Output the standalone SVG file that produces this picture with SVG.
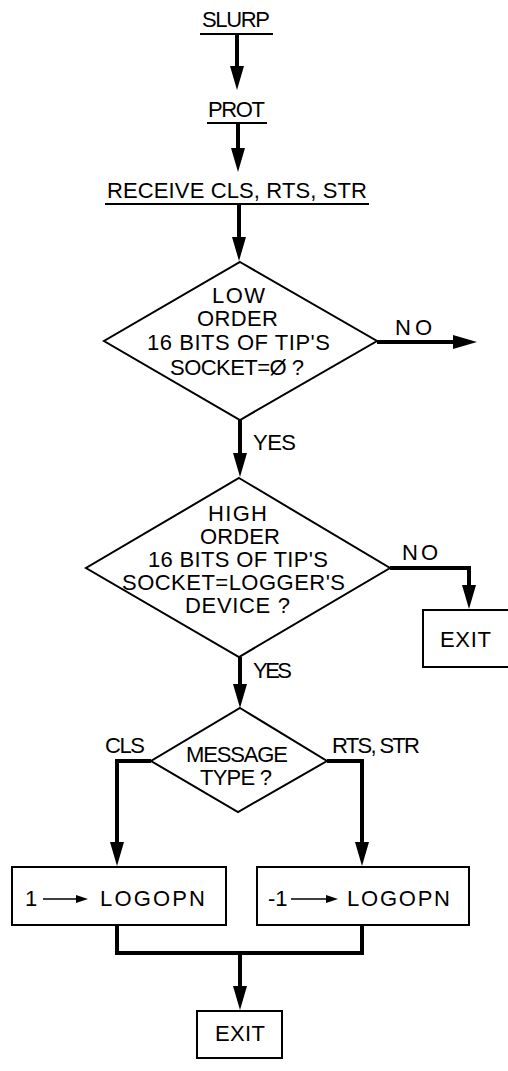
<svg xmlns="http://www.w3.org/2000/svg" width="508" height="1071" viewBox="0 0 508 1071">
  <style>
    .bg { fill: #ffffff; }
    .t { font-family: "Liberation Sans", "DejaVu Sans", Arial, sans-serif; font-size: 22px; fill: #000; text-anchor: start; }
    .shape { fill: none; stroke: #000; stroke-width: 2; stroke-linejoin: miter; }
    .rule { stroke: #000; stroke-width: 2; fill: none; }
    .flow { fill: none; stroke: #000; stroke-width: 4; stroke-linejoin: miter; }
    .small { fill: none; stroke: #000; stroke-width: 1.5; }
  </style>
  <defs>
    <marker id="head" markerUnits="userSpaceOnUse" markerWidth="24" markerHeight="14" refX="14" refY="7" orient="auto">
      <path d="M0,0 L24,7 L0,14 z" fill="#000"/>
    </marker>
    <marker id="smallhead" markerUnits="userSpaceOnUse" markerWidth="12" markerHeight="8" refX="8" refY="4" orient="auto">
      <path d="M0,0 L12,4 L0,8 z" fill="#000"/>
    </marker>
  </defs>

  <rect class="bg" x="0" y="0" width="508" height="1071"/>

  <!-- entry labels -->
  <g id="slurp">
    <text class="t" x="202" y="27" font-size="19" textLength="68" lengthAdjust="spacing">SLURP</text>
    <line class="rule" x1="200" y1="34" x2="273" y2="34"/>
  </g>
  <g id="prot">
    <text class="t" x="208" y="117" font-size="21" textLength="57" lengthAdjust="spacing">PROT</text>
    <line class="rule" x1="207" y1="123" x2="267" y2="123"/>
  </g>
  <g id="receive">
    <text class="t" x="107" y="198" font-size="23" textLength="260" lengthAdjust="spacing">RECEIVE CLS, RTS, STR</text>
    <line class="rule" x1="105" y1="204" x2="369" y2="204"/>
  </g>

  <!-- decision: low order bits -->
  <g id="low-order">
    <polygon class="shape" points="240,262 377,341 240,420 104,341"/>
    <text class="t" x="212" y="303" textLength="53" lengthAdjust="spacing">LOW</text>
    <text class="t" x="197" y="326" textLength="81" lengthAdjust="spacing">ORDER</text>
    <text class="t" x="147" y="350" textLength="183" lengthAdjust="spacing">16 BITS OF TIP'S</text>
    <text class="t" x="170" y="375" textLength="134" lengthAdjust="spacing">SOCKET=Ø ?</text>
  </g>

  <!-- decision: high order bits -->
  <g id="high-order">
    <polygon class="shape" points="239,478 390,568 239,657 86,568"/>
    <text class="t" x="208" y="521" textLength="59" lengthAdjust="spacing">HIGH</text>
    <text class="t" x="200" y="544" textLength="80" lengthAdjust="spacing">ORDER</text>
    <text class="t" x="148" y="567" textLength="180" lengthAdjust="spacing">16 BITS OF TIP'S</text>
    <text class="t" x="122" y="590" textLength="223" lengthAdjust="spacing">SOCKET=LOGGER'S</text>
    <text class="t" x="185" y="613" textLength="105" lengthAdjust="spacing">DEVICE ?</text>
  </g>

  <!-- exit on wrong device -->
  <g id="exit-right">
    <rect class="shape" x="423" y="610" width="90" height="57"/>
    <text class="t" x="440" y="647" font-size="21" textLength="51" lengthAdjust="spacing">EXIT</text>
  </g>

  <!-- decision: message type -->
  <g id="message-type">
    <polygon class="shape" points="240,708 327,761 238,812 151,761"/>
    <text class="t" x="186" y="762" textLength="102" lengthAdjust="spacing">MESSAGE</text>
    <text class="t" x="200" y="785" textLength="72" lengthAdjust="spacing">TYPE ?</text>
  </g>

  <!-- CLS branch -->
  <g id="set-open">
    <rect class="shape" x="12" y="867" width="214" height="58"/>
    <text class="t" x="25" y="906" font-size="22">1</text>
    <line class="small" x1="43" y1="899" x2="84" y2="899" marker-end="url(#smallhead)"/>
    <text class="t" x="100" y="906" font-size="23" textLength="105" lengthAdjust="spacing">LOGOPN</text>
  </g>

  <!-- RTS / STR branch -->
  <g id="set-close">
    <rect class="shape" x="257" y="867" width="212" height="58"/>
    <text class="t" x="268" y="906" font-size="22">-1</text>
    <line class="small" x1="291" y1="899" x2="334" y2="899" marker-end="url(#smallhead)"/>
    <text class="t" x="347" y="906" font-size="23" textLength="103" lengthAdjust="spacing">LOGOPN</text>
  </g>

  <!-- final exit -->
  <g id="exit-bottom">
    <rect class="shape" x="197" y="1011" width="85" height="47"/>
    <text class="t" x="215" y="1041" font-size="20" textLength="50" lengthAdjust="spacing">EXIT</text>
  </g>

  <!-- connectors -->
  <g id="connectors">
    <path class="flow" d="M237,34 V80" marker-end="url(#head)"/>
    <path class="flow" d="M238,123 V162" marker-end="url(#head)"/>
    <path class="flow" d="M239,204 V251" marker-end="url(#head)"/>
    <path class="flow" d="M377,342 H467" marker-end="url(#head)"/>
    <path class="flow" d="M240,420 V467" marker-end="url(#head)"/>
    <path class="flow" d="M390,568 H469 V599" marker-end="url(#head)"/>
    <path class="flow" d="M240,657 V698" marker-end="url(#head)"/>
    <path class="flow" d="M151,761 H117 V856" marker-end="url(#head)"/>
    <path class="flow" d="M327,761 H362 V856" marker-end="url(#head)"/>
    <path class="flow" d="M117,925 V953 H362 V925"/>
    <path class="flow" d="M240,953 V1000" marker-end="url(#head)"/>
  </g>

  <!-- branch labels -->
  <g id="labels">
    <text class="t" x="395" y="335" font-size="23" textLength="37" lengthAdjust="spacing">NO</text>
    <text class="t" x="253" y="450" font-size="21" textLength="43" lengthAdjust="spacing">YES</text>
    <text class="t" x="402" y="560" font-size="23" textLength="36" lengthAdjust="spacing">NO</text>
    <text class="t" x="253" y="678" font-size="21" textLength="39" lengthAdjust="spacing">YES</text>
    <text class="t" x="105" y="753" font-size="21" textLength="40" lengthAdjust="spacing">CLS</text>
    <text class="t" x="332" y="753" font-size="21" textLength="88" lengthAdjust="spacing">RTS, STR</text>
  </g>
</svg>
